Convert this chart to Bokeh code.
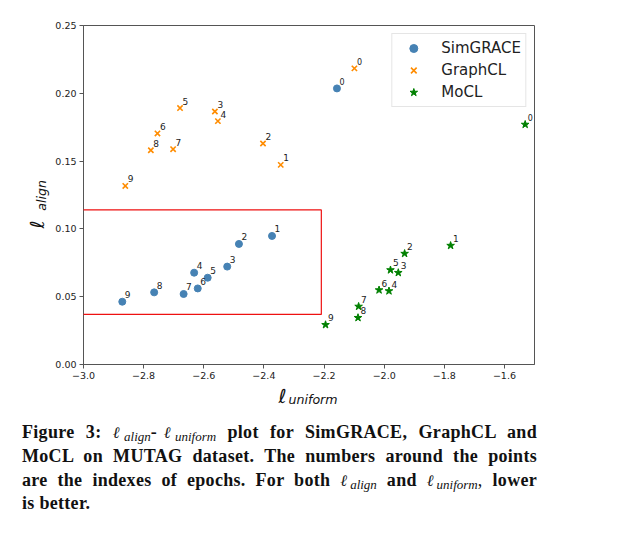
from bokeh.plotting import figure
from bokeh.models import Range1d, FixedTicker, BoxAnnotation, ColumnDataSource, Div
from bokeh.layouts import column
from bokeh.embed import file_html
from bokeh.resources import INLINE
from bokeh.core.properties import value

# ---- data ----
epochs = ["0", "1", "2", "3", "4", "5", "6", "7", "8", "9"]
simgrace_x = [-2.157, -2.373, -2.483, -2.522, -2.632, -2.587, -2.620, -2.667, -2.765, -2.871]
simgrace_y = [0.2036, 0.0948, 0.0889, 0.0722, 0.0677, 0.0640, 0.0561, 0.0520, 0.0532, 0.0463]
graphcl_x = [-2.099, -2.344, -2.403, -2.563, -2.553, -2.679, -2.754, -2.702, -2.776, -2.861]
graphcl_y = [0.2184, 0.1472, 0.1630, 0.1866, 0.1795, 0.1891, 0.1704, 0.1588, 0.1580, 0.1317]
mocl_x = [-1.531, -1.779, -1.932, -1.953, -1.984, -1.979, -2.017, -2.085, -2.087, -2.195]
mocl_y = [0.1770, 0.0877, 0.0818, 0.0677, 0.0542, 0.0697, 0.0549, 0.0428, 0.0345, 0.0293]

x_ticks = [-3.0, -2.8, -2.6, -2.4, -2.2, -2.0, -1.8, -1.6]
x_tick_labels = ["\u22123.0", "\u22122.8", "\u22122.6", "\u22122.4", "\u22122.2", "\u22122.0", "\u22121.8", "\u22121.6"]
y_ticks = [0.0, 0.05, 0.10, 0.15, 0.20, 0.25]
y_tick_labels = ["0.00", "0.05", "0.10", "0.15", "0.20", "0.25"]

x_lo, x_hi = -3.0, -1.5
y_lo, y_hi = 0.0, 0.25

# highlighted region
box_left, box_right, box_bottom, box_top = -3.034, -2.209, 0.0369, 0.114

FONT = "DejaVu Sans"

p = figure(output_backend="svg", toolbar_location=None,
           frame_width=451, frame_height=339,
           min_border_left=83, min_border_right=33, min_border_top=25, min_border_bottom=52,
           x_range=Range1d(x_lo, x_hi), y_range=Range1d(y_lo, y_hi))
p.grid.visible = False
p.outline_line_color = "#555555"
p.outline_line_width = 1
p.background_fill_color = "white"
p.border_fill_color = "white"

for ax in (p.xaxis[0], p.yaxis[0]):
    ax.axis_line_color = "#555555"
    ax.major_tick_line_color = "#555555"
    ax.major_tick_out = 4
    ax.major_tick_in = 0
    ax.minor_tick_line_color = None
    ax.major_label_text_font = FONT
    ax.major_label_text_font_size = "9.5px"
    ax.major_label_text_color = "#222222"
    ax.major_label_standoff = 3

p.xaxis[0].ticker = FixedTicker(ticks=x_ticks)
p.xaxis[0].major_label_overrides = {t: l for t, l in zip(x_ticks, x_tick_labels)}
p.yaxis[0].ticker = FixedTicker(ticks=y_ticks)
p.yaxis[0].major_label_overrides = {t: l for t, l in zip(y_ticks, y_tick_labels)}

series = [
    ("SimGRACE", simgrace_x, simgrace_y, "circle", "steelblue", 7),
    ("GraphCL", graphcl_x, graphcl_y, "x", "darkorange", 7.5),
    ("MoCL", mocl_x, mocl_y, "star", "green", 8),
]

for name, xs, ys, marker, color, size in series:
    src = ColumnDataSource(dict(x=xs, y=ys, label=epochs,
                                fs=["8px" if e == "0" else "9px" for e in epochs]))
    p.scatter("x", "y", source=src, marker=marker, size=size,
              fill_color=color, line_color=color, line_width=1.6 if marker == "x" else 1,
              legend_label=name)
    p.text("x", "y", text="label", source=src, x_offset=2.5, y_offset=-7,
           text_font=value(FONT), text_font_size="fs", text_color="#222222",
           text_align="left", text_baseline="alphabetic")

p.add_layout(BoxAnnotation(left=box_left, right=box_right, bottom=box_bottom, top=box_top,
                           fill_alpha=0, line_color="#ee1111", line_alpha=1.0, line_width=1.2))

lg = p.legend[0]
lg.location = "top_right"
lg.margin = 8
lg.padding = 4
lg.spacing = 2
lg.label_height = 20
lg.glyph_height = 20
lg.glyph_width = 34
lg.label_standoff = 11
lg.label_text_font = FONT
lg.label_text_font_size = "15px"
lg.label_text_color = "#222222"
lg.border_line_color = "#cccccc"
lg.border_line_width = 1
lg.background_fill_alpha = 0.8

# ---- axis titles (l with subscript) as an HTML overlay, coordinates relative to caption origin ----
ox, oy = 5, 416   # page position of the caption box origin


def ax_text(txt, size, bx, by, rotate=False):
    base = 0.5 * size * (1 - 1.164) + 0.928 * size   # baseline offset from element top
    style = ("position:absolute;left:%.1fpx;top:%.1fpx;font-family:'DejaVu Sans';font-style:italic;"
             "font-weight:normal;font-size:%.1fpx;line-height:%.1fpx;white-space:nowrap;color:#111;"
             % (bx - ox, by - base - oy, size, size))
    if rotate:
        style += "transform-origin:0 %.2fpx;transform:rotate(-90deg);" % base
    return '<div style="%s">%s</div>' % (style, txt)


overlay = (ax_text("\u2113", 19.5, 278.5, 398.5) + ax_text("uniform", 12.6, 288.5, 400)
           + ax_text("\u2113", 19.5, 44, 223.5, True) + ax_text("align", 12.6, 47, 206, True))


def m(sub):
    return ('<span style="font-weight:normal;font-style:italic;">'
            '<span style="font-family:\'DejaVu Serif\';font-size:16px;letter-spacing:-2px;">\u2113</span>'
            '<span style="font-size:13px;vertical-align:-3px;letter-spacing:0;">' + sub + '</span></span>')


line_style = ("text-align:justify;text-align-last:justify;width:515px;height:23.8px;"
              "line-height:23.8px;")
lines = [
    "Figure 3: " + m("align") + "-" + m("uniform") + " plot for SimGRACE, GraphCL and",
    "MoCL on MUTAG dataset. The numbers around the points",
    "are the indexes of epochs. For both " + m("align") + " and " + m("uniform")
    + "<span style=\"font-weight:normal\">,</span> lower",
]
html = '<div style="position:relative;overflow:visible;">' + overlay
html += ('<div style="font-family:\'Liberation Serif\',serif;font-weight:bold;font-size:18px;'
         'letter-spacing:0.3px;color:#111;margin-left:17px;">')
for ln in lines:
    html += '<div style="' + line_style + '">' + ln + '</div>'
html += '<div style="line-height:23.8px;height:23.8px;">is better.</div></div></div>'

cap = Div(text=html, width=600, height=100)

layout = column(p, cap, spacing=0)
open("out.html", "w").write(file_html(layout, INLINE))
